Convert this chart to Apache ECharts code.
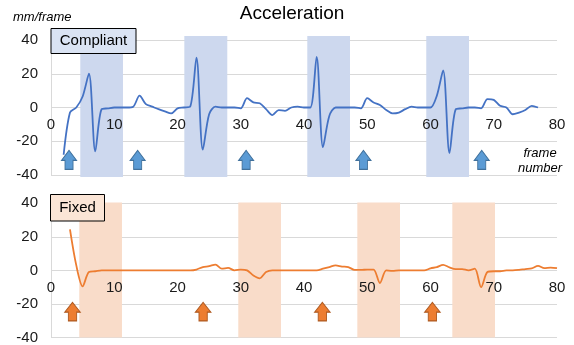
<!DOCTYPE html>
<html>
<head>
<meta charset="utf-8">
<script src="https://cdn.jsdelivr.net/npm/echarts@6/dist/echarts.min.js"></script>
<style>html,body{margin:0;padding:0;background:#fff}#c{width:574px;height:345px}</style>
</head>
<body>
<div id="c"></div>
<script>
// ---- data ----
const xTicks = [0, 10, 20, 30, 40, 50, 60, 70, 80];
const yTicks = [-40, -20, 0, 20, 40];

const compliantStartFrame = 2;
const compliantValues = [
  -28, -3, 0, 6.5, 20, -26, -1, -0.5, 0, 0,
  0, 0.5, 7, 2, 0.5, -1, -2.3, -3.5, -0.5, 0,
  0.5, 29.5, -25, -4, 0.5, 0, 0, 0, -0.5, 5.5,
  3, 2.5, -1, -4.5, -1.5, -2, 0, 0.5, 0, 0,
  30, -23.5, -5, 0, 0, 0, 0, -0.5, 5.5, 3,
  1.5, -1.5, -3.5, -3, -1, 0.5, 0, 0, 0, 7,
  22, -27, -1, -0.5, 0, 0, -0.5, 5, 4.5, 1,
  0, -4, -3, -1.5, 1, 0
];

const fixedStartFrame = 3;
const fixedValues = [
  24.5, 3, -9.5, -1, -0.5, 0, 0, 0, 0, 0,
  0, 0, 0, 0, 0, 0, 0, 0, 0, 0,
  0.5, 2, 2.5, 3.5, 1, 1.5, 0, 0.5, 0, -3,
  -4.7, -1, 0, 0, 0, 0, 0, 0, 0, 0,
  1, 2, 3, 2.3, 2, 0.3, 0.3, 0.5, 0.5, -7.5,
  0, -0.3, 0, 0, 0, 0, 0, 1.2, 2, 3.3,
  1.8, 0.8, 0.8, 0, 1, -10, -1, -0.5, -0.5, 0,
  0, 0.3, 0.8, 1.2, 2.7, 1.3, 1.7, 1.3
];

const compliantBands = [[4.63, 11.38], [21.08, 27.87], [40.52, 47.27], [59.33, 66.09]];
const fixedBands = [[4.47, 11.22], [29.61, 36.36], [48.43, 55.18], [63.45, 70.2]];

const compliantArrowFrames = [2.85, 13.7, 30.85, 49.4, 68.1];
const compliantArrowLevel = -31;
const fixedArrowFrames = [3.4, 24.05, 42.9, 60.3];
const fixedArrowLevel = -24.6;

// ---- build ----
const FONT = '"Liberation Sans", Arial, sans-serif';
const toPairs = (start, vals) => vals.map((v, i) => [start + i, v]);
const arrowPath = 'path://M7.5,0 L15,10 L11.5,10 L11.5,19 L3.5,19 L3.5,10 L0,10 Z';

function bandRenderer(yTop, yBot, color) {
  return function (params, api) {
    const a = api.coord([api.value(0), yTop]);
    const b = api.coord([api.value(1), yBot]);
    return {
      type: 'rect',
      shape: { x: a[0], y: a[1], width: b[0] - a[0], height: b[1] - a[1] },
      style: { fill: color }
    };
  };
}

// grids
const grids = [
  { left: 51, top: 40, width: 506, height: 135 },
  { left: 51, top: 203.3, width: 506, height: 136.5 }
];

function xAxisDef(gridIndex, margin) {
  // place the axis labels on the y = 0 line, the middle of the symmetric range
  const off = -grids[gridIndex].height / 2;
  return {
    type: 'value', gridIndex, min: xTicks[0], max: xTicks[xTicks.length - 1], interval: 10,
    position: 'bottom', offset: off, z: 5,
    axisLine: { show: false, onZero: false },
    axisTick: { show: false },
    splitLine: { show: false },
    axisLabel: { fontFamily: FONT, fontSize: 15, color: '#1a1a1a', margin }
  };
}
function yAxisDef(gridIndex) {
  return {
    type: 'value', gridIndex, min: yTicks[0], max: yTicks[yTicks.length - 1], interval: 20,
    axisLine: { show: true, onZero: false, lineStyle: { color: '#d9d9d9', width: 1 } },
    axisTick: { show: false },
    splitLine: { show: true, lineStyle: { color: '#d9d9d9', width: 1 } },
    axisLabel: { fontFamily: FONT, fontSize: 15, color: '#1a1a1a', margin: 13 }
  };
}

const chart = echarts.init(document.getElementById('c'), null, { renderer: 'canvas' });
chart.setOption({
  animation: false,
  backgroundColor: '#fff',
  grid: grids,
  xAxis: [xAxisDef(0, 10), xAxisDef(1, 11)],
  yAxis: [yAxisDef(0), yAxisDef(1)],
  series: [
    {
      type: 'custom', xAxisIndex: 0, yAxisIndex: 0, z: 1,
      renderItem: bandRenderer(42.4, -41.2, '#cdd8ee'),
      encode: { x: [0, 1] },
      data: compliantBands
    },
    {
      type: 'custom', xAxisIndex: 1, yAxisIndex: 1, z: 1,
      renderItem: bandRenderer(40.5, -40, '#f9dcc9'),
      encode: { x: [0, 1] },
      data: fixedBands
    },
    {
      type: 'line', xAxisIndex: 0, yAxisIndex: 0, z: 3,
      data: toPairs(compliantStartFrame, compliantValues),
      smooth: 0.3, showSymbol: false, symbol: 'none',
      lineStyle: { color: '#4472c4', width: 1.8 }
    },
    {
      type: 'line', xAxisIndex: 1, yAxisIndex: 1, z: 3,
      data: toPairs(fixedStartFrame, fixedValues),
      smooth: 0.3, showSymbol: false, symbol: 'none',
      lineStyle: { color: '#ed7d31', width: 1.8 }
    },
    {
      type: 'scatter', xAxisIndex: 0, yAxisIndex: 0, z: 4,
      data: compliantArrowFrames.map(f => [f, compliantArrowLevel]),
      symbol: arrowPath, symbolSize: [15, 19],
      itemStyle: { color: '#5b9bd5', borderColor: '#41719c', borderWidth: 1, opacity: 1 }
    },
    {
      type: 'scatter', xAxisIndex: 1, yAxisIndex: 1, z: 4,
      data: fixedArrowFrames.map(f => [f, fixedArrowLevel]),
      symbol: arrowPath, symbolSize: [15.5, 18.5],
      itemStyle: { color: '#ed7d31', borderColor: '#ae5a21', borderWidth: 1, opacity: 1 }
    }
  ],
  graphic: [
    { type: 'text', x: 292, y: 14, z: 10,
      style: { text: 'Acceleration', font: '19px ' + FONT, fill: '#000', align: 'center', verticalAlign: 'middle' } },
    { type: 'text', x: 13, y: 17.5, z: 10,
      style: { text: 'mm/frame', font: 'italic 13px ' + FONT, fill: '#000', align: 'left', verticalAlign: 'middle' } },
    { type: 'text', x: 540, y: 161, z: 10,
      style: { text: 'frame\nnumber', font: 'italic 13px ' + FONT, fill: '#000', align: 'center', verticalAlign: 'middle', lineHeight: 15 } },
    { type: 'rect', z: 10, shape: { x: 51, y: 28.5, width: 85, height: 25 },
      style: { fill: '#dae3f3', stroke: '#000', lineWidth: 1 } },
    { type: 'text', x: 93.5, y: 41, z: 11,
      style: { text: 'Compliant', font: '15px ' + FONT, fill: '#000', align: 'center', verticalAlign: 'middle' } },
    { type: 'rect', z: 10, shape: { x: 50.5, y: 194.5, width: 54, height: 26.5 },
      style: { fill: '#fbe5d6', stroke: '#000', lineWidth: 1 } },
    { type: 'text', x: 77.5, y: 208, z: 11,
      style: { text: 'Fixed', font: '15px ' + FONT, fill: '#000', align: 'center', verticalAlign: 'middle' } }
  ]
});
</script>
</body>
</html>
